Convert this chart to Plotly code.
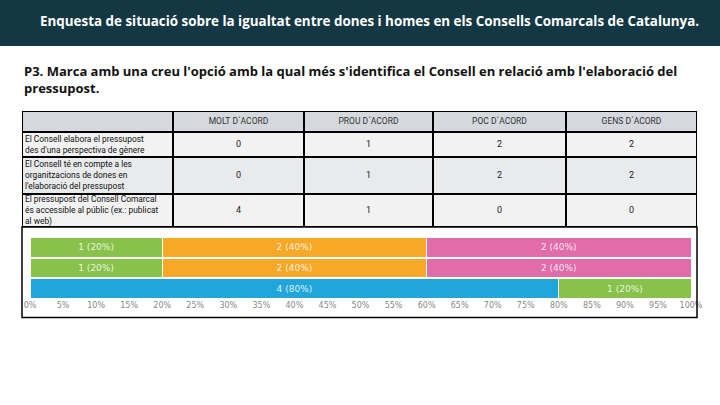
import plotly.graph_objects as go

title_text = "Enquesta de situació sobre la igualtat entre dones i homes en els Consells Comarcals de Catalunya."
question_text = "P3. Marca amb una creu l'opció amb la qual més s'identifica el Consell en relació amb l'elaboració del<br>pressupost."

columns = ["MOLT D´ACORD", "PROU D´ACORD", "POC D´ACORD", "GENS D´ACORD"]
statements = [
    "El Consell elabora el pressupost<br>des d'una perspectiva de gènere",
    "El Consell té en compte a les<br>organitzacions de dones en<br>l'elaboració del pressupost",
    "El pressupost del Consell Comarcal<br>és accessible al públic (ex.: publicat<br>al web)",
]
molt = [0, 0, 4]
prou = [1, 1, 1]
poc = [2, 2, 0]
gens = [2, 2, 0]
series = [molt, prou, poc, gens]
colors = ["#21a6dc", "#88c24a", "#f8a827", "#e26ca9"]
x_ticks = list(range(0, 101, 5))

# layout constants (pixels)
W, H = 720, 405
col_w = [151, 131, 129, 133, 131]
row_h = [21, 25, 37, 33]
TBL_X0, TBL_Y0 = 22, 111


def px(x):
    return x / W


def py(y):
    return 1 - y / H


totals = [sum(s[i] for s in series) for i in range(len(statements))]
row_keys = ["r1", "r2", "r3"]

fig = go.Figure()

# ---- table drawn on its own axes (units = pixels) ----
x_edges = [0]
for w in col_w:
    x_edges.append(x_edges[-1] + w)
y_edges = [0]
for h in row_h:
    y_edges.append(y_edges[-1] + h)
tbl_w, tbl_h = x_edges[-1], y_edges[-1]
x_mid = [(a + b) / 2 for a, b in zip(x_edges[:-1], x_edges[1:])]
y_mid = [(a + b) / 2 for a, b in zip(y_edges[:-1], y_edges[1:])]

fill_idx = [[0] * 5, [1] * 5, [2] * 5, [1] * 5]
fig.add_trace(go.Heatmap(
    x=x_edges, y=y_edges, z=[[0] * 5 for _ in range(4)],
    colorscale=[[0, "black"], [1, "black"]], showscale=False, hoverinfo="skip",
    xaxis="x2", yaxis="y2",
))
fig.add_trace(go.Heatmap(
    x=x_edges, y=y_edges, z=fill_idx, zmin=0, zmax=2,
    colorscale=[[0, "#d5d9dd"], [0.5, "#f2f2f2"], [1, "#e8eaec"]],
    showscale=False, hoverinfo="skip", xgap=2, ygap=2,
    xaxis="x2", yaxis="y2",
))
fig.add_trace(go.Scatter(
    x=x_mid[1:], y=[y_mid[0]] * 4, text=columns, mode="text",
    textposition="middle center", hoverinfo="skip", showlegend=False,
    textfont=dict(family="Roboto", size=8.5, color="#333333"),
    xaxis="x2", yaxis="y2",
))
fig.add_trace(go.Scatter(
    x=[x_edges[0] + 3] * 3, y=[y + 0.5 for y in y_mid[1:]], text=statements, mode="text",
    textposition="middle right", hoverinfo="skip", showlegend=False,
    textfont=dict(family="Roboto", size=8.4, color="#111111"),
    xaxis="x2", yaxis="y2",
))
for ci, s in enumerate(series):
    fig.add_trace(go.Scatter(
        x=[x_mid[ci + 1]] * 3, y=y_mid[1:], text=[str(v) for v in s], mode="text",
        textposition="middle center", hoverinfo="skip", showlegend=False,
        textfont=dict(family="Roboto", size=9, color="#222222"),
        xaxis="x2", yaxis="y2",
    ))

# ---- stacked bars ----
for name, s, c in zip(columns, series, colors):
    pct = [v / t * 100 for v, t in zip(s, totals)]
    text = [f"{v} ({p:.0f}%)" if v > 0 else "" for v, p in zip(s, pct)]
    fig.add_trace(go.Bar(
        y=row_keys, x=pct, orientation="h", name=name,
        marker=dict(color=c, line=dict(color="white", width=1)),
        text=text, textposition="inside", insidetextanchor="middle",
        textfont=dict(family="DejaVu Sans", size=9, color="rgba(255,255,255,0.85)"),
        showlegend=False,
    ))

fig.update_layout(
    width=W, height=H, autosize=False,
    margin=dict(l=0, r=0, t=0, b=0, pad=0),
    paper_bgcolor="white", plot_bgcolor="white",
    barmode="stack", bargap=0.06,
    xaxis=dict(
        domain=[px(30), px(691)], range=[0, 100], automargin=False,
        tickvals=x_ticks, ticktext=[f"{t}%" for t in x_ticks],
        showgrid=True, gridcolor="#eeeeee", zeroline=False,
        anchor="y",
        tickfont=dict(family="DejaVu Sans", size=8, color="#888888"),
        ticks="", showline=False,
    ),
    yaxis=dict(
        domain=[py(299), py(237)], automargin=False,
        autorange="reversed", showticklabels=False, showgrid=False, zeroline=False,
    ),
    xaxis2=dict(
        domain=[px(TBL_X0), px(TBL_X0 + tbl_w)], range=[0, tbl_w], anchor="y2",
        visible=False, fixedrange=True, automargin=False,
    ),
    yaxis2=dict(
        domain=[py(TBL_Y0 + tbl_h), py(TBL_Y0)], range=[tbl_h, 0], anchor="x2",
        visible=False, fixedrange=True, automargin=False,
    ),
    shapes=[
        dict(type="rect", xref="paper", yref="paper", x0=0, x1=1, y0=py(46), y1=1,
             fillcolor="#133843", line=dict(width=0), layer="below"),
        dict(type="rect", xref="paper", yref="paper", x0=px(22), x1=px(697),
             y0=py(317.5), y1=py(TBL_Y0 + tbl_h),
             line=dict(color="black", width=1.5), fillcolor="rgba(0,0,0,0)"),
    ],
    annotations=[
        dict(text=f"<b>{title_text}</b>", xref="paper", yref="paper", x=px(370), y=py(21),
             xanchor="center", yanchor="middle", showarrow=False,
             font=dict(family="Open Sans", size=13.4, color="white")),
        dict(text=f"<b>{question_text}</b>", xref="paper", yref="paper", x=px(22), y=py(79),
             xanchor="left", yanchor="middle", align="left", showarrow=False,
             font=dict(family="Open Sans", size=13, color="#111111")),
    ],
)

fig.write_html(
    "out.html",
    config={"displayModeBar": False, "responsive": False},
    post_script="document.documentElement.style.overflow='hidden';document.body.style.margin='0';document.body.style.overflow='hidden';",
)
